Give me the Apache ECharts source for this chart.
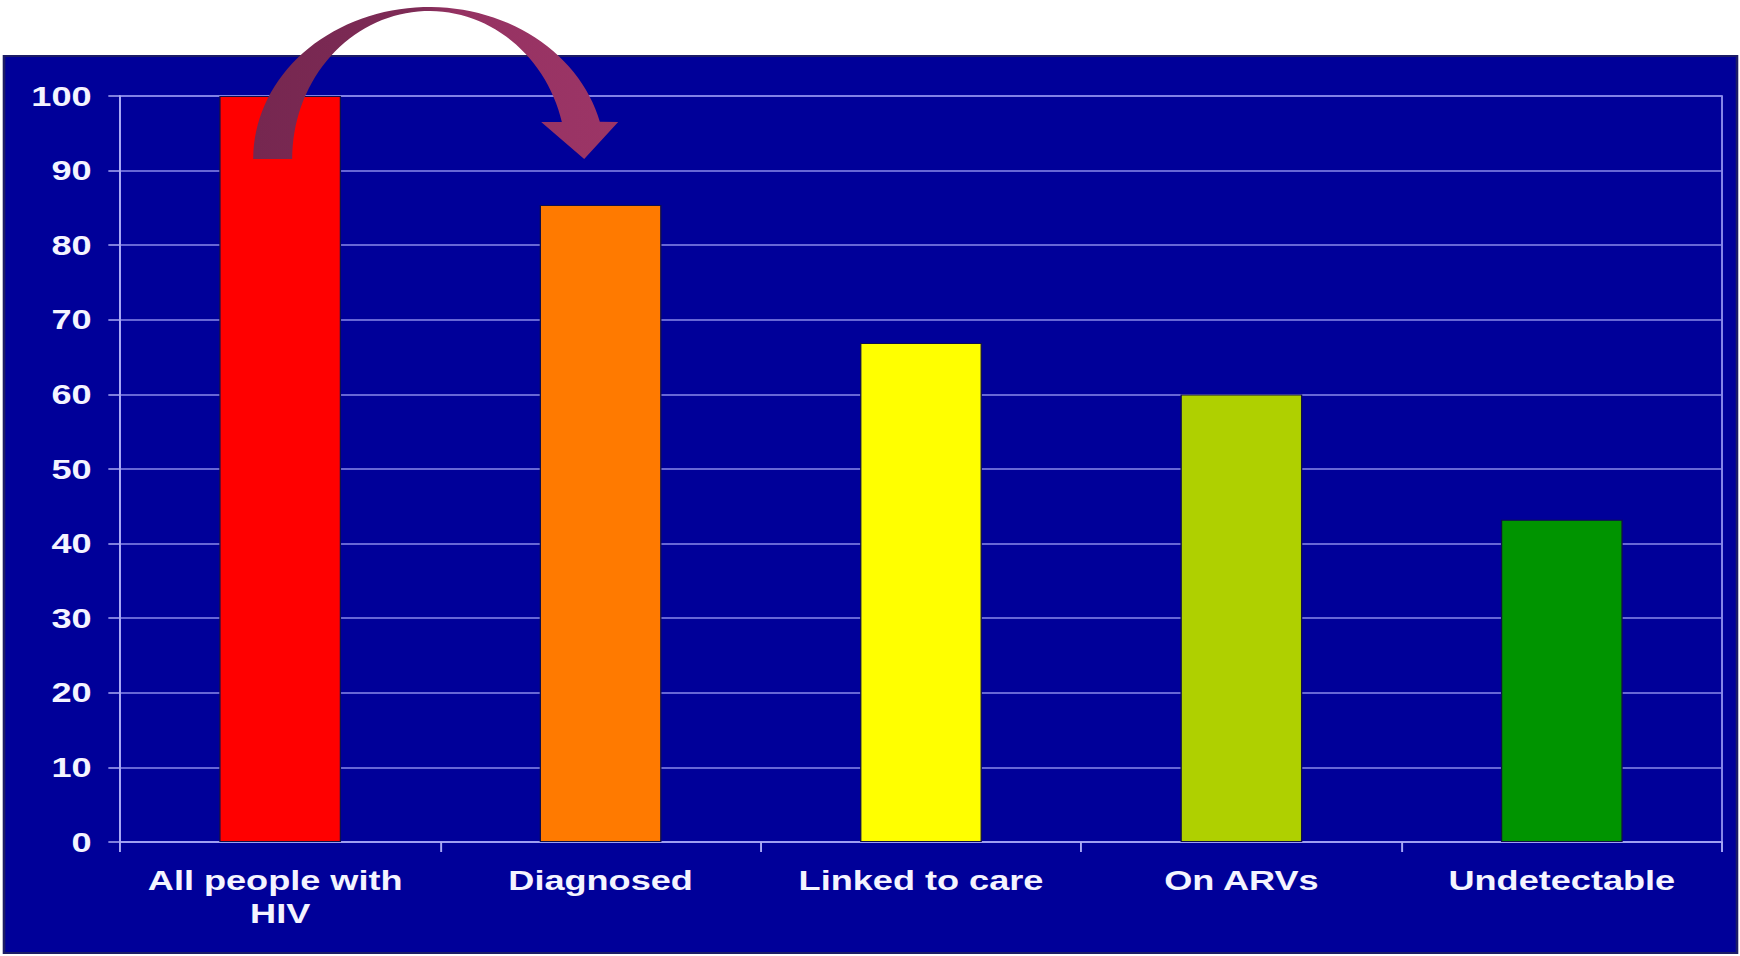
<!DOCTYPE html>
<html>
<head>
<meta charset="utf-8">
<title>HIV care cascade</title>
<script src="https://cdn.jsdelivr.net/npm/echarts@6/dist/echarts.min.js"></script>
<style>
  html, body { margin: 0; padding: 0; background: #ffffff; overflow: hidden; }
  /* the slide artwork is stretched horizontally, so the chart is laid out
     narrower and widened with a CSS transform */
  #chart { width: 1349px; height: 956px; transform-origin: 0 0; transform: scaleX(1.2899); }
</style>
</head>
<body>
<div id="chart"></div>
<script>
// Cascade stages and the share of people at each stage (%)
const categories = ['All people with HIV', 'Diagnosed', 'Linked to care', 'On ARVs', 'Undetectable'];
const values = [100, 85.4, 66.9, 60, 43.2];
const barColors = ['#ff0000', '#ff7a00', '#ffff00', '#afd000', '#009400'];
const yTicks = [0, 10, 20, 30, 40, 50, 60, 70, 80, 90, 100];

const STRETCH = 1.2899;
const panelBlue = '#000099';
const gridColor = '#8a8aea';
const axisColor = '#a9a9f5';
const labelFont = { color: '#f4f4ff', fontFamily: '"Liberation Sans", Arial, sans-serif', fontWeight: 'bold', fontSize: 28 };

const chart = echarts.init(document.getElementById('chart'), null, { renderer: 'svg' });

chart.setOption({
  backgroundColor: 'transparent',
  animation: false,
  grid: {
    left: 93, right: 14, top: 96, bottom: 114,
    show: true, borderColor: gridColor, borderWidth: 1.5, backgroundColor: 'transparent'
  },
  xAxis: {
    type: 'category',
    data: categories,
    axisLine: { lineStyle: { color: axisColor, width: 1.5 } },
    axisTick: { show: true, length: 10, alignWithLabel: false, lineStyle: { color: axisColor, width: 1.5 } },
    axisLabel: Object.assign({ interval: 0, margin: 22, width: 225, overflow: 'break', lineHeight: 33, align: 'center' }, labelFont),
    splitLine: { show: false }
  },
  yAxis: {
    type: 'value',
    min: yTicks[0],
    max: yTicks[yTicks.length - 1],
    interval: yTicks[1] - yTicks[0],
    axisLine: { show: true, lineStyle: { color: axisColor, width: 1.5 } },
    axisTick: { show: true, length: 9, lineStyle: { color: axisColor, width: 1.5 } },
    axisLabel: Object.assign({ margin: 22 }, labelFont),
    splitLine: { show: true, lineStyle: { color: gridColor, width: 1.5 } }
  },
  series: [{
    type: 'bar',
    barWidth: '38%',
    data: values.map((v, i) => ({
      value: v,
      itemStyle: { color: barColors[i], borderColor: '#10104a', borderWidth: 1 }
    })),
    z: 2
  }]
});

// Curved arrow from the first stage to the second, anchored on the bar tops.
// Outline: outer elliptical arc, arrow head, inner elliptical arc back.
function arrowPoints() {
  const p0 = chart.convertToPixel({ seriesIndex: 0 }, [0, values[0]]);
  const p1 = chart.convertToPixel({ seriesIndex: 0 }, [1, values[0]]);
  const k = (p1[0] - p0[0]) / 320.4;   // horizontal unit: one category width
  const pt = (dx, dy) => [p0[0] + dx * k, p0[1] + dy];
  const cx = 149, cy = 63;
  const pts = [];
  const steps = 64;
  // outer edge: from the left foot over the top to the arrow head
  const tEndOuter = Math.atan2(-37 / 152, 170 / 176);
  for (let i = 0; i <= steps; i++) {
    const t = -Math.PI + (tEndOuter + Math.PI) * i / steps;
    pts.push(pt(cx + 176 * Math.cos(t), cy + 152 * Math.sin(t)));
  }
  pts.push(pt(338, 26), pt(304, 63), pt(261, 26));
  // inner edge: back from the arrow head to the inner foot
  const tEndInner = Math.atan2(-37 / 148, 133 / 137);
  for (let i = 0; i <= steps; i++) {
    const t = tEndInner - (tEndInner + Math.PI) * i / steps;
    pts.push(pt(cx + 137 * Math.cos(t), cy + 148 * Math.sin(t)));
  }
  return pts;
}

chart.setOption({
  graphic: [
    {
      type: 'rect',
      z: -10,
      silent: true,
      shape: { x: 4 / STRETCH, y: 56, width: 1733 / STRETCH, height: 897 },
      style: { fill: panelBlue, stroke: '#1c1c66', lineWidth: 2 }
    },
    {
      type: 'polygon',
      z: 100,
      silent: true,
      shape: { points: arrowPoints() },
      style: {
        fill: {
          type: 'linear', x: 0, y: 0, x2: 1, y2: 0,
          colorStops: [
            { offset: 0, color: '#762750' },
            { offset: 0.45, color: '#7e2b56' },
            { offset: 0.56, color: '#953262' },
            { offset: 1, color: '#9c3566' }
          ]
        }
      }
    }
  ]
});
</script>
</body>
</html>
